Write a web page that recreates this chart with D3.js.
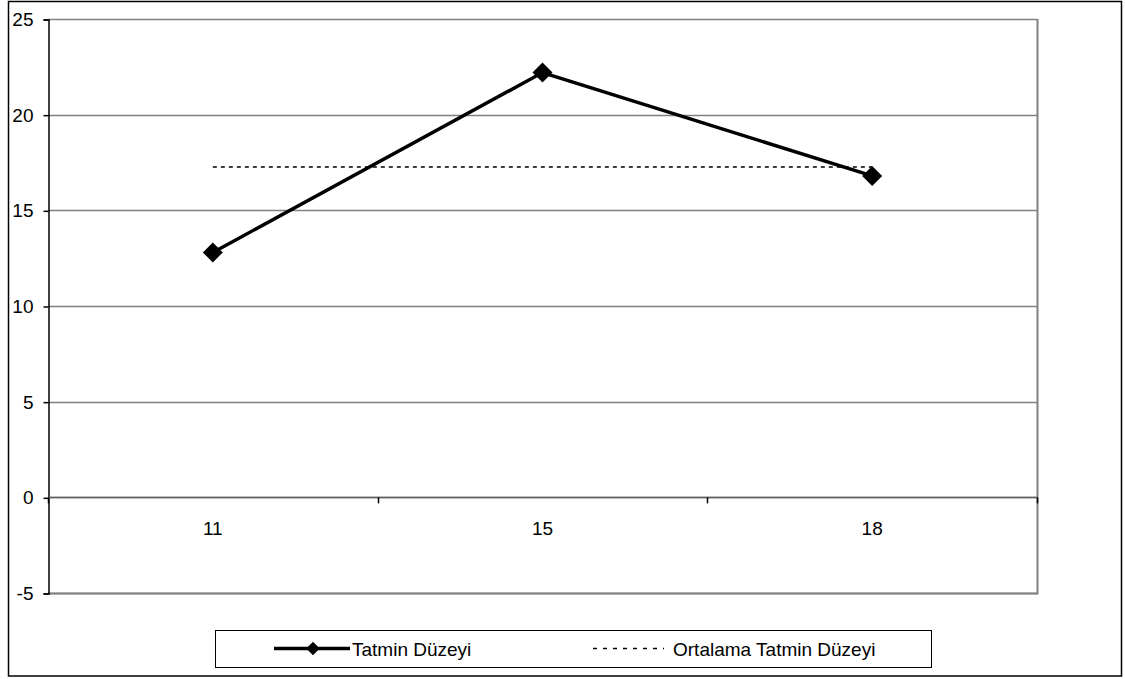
<!DOCTYPE html>
<html>
<head>
<meta charset="utf-8">
<script src="https://cdn.jsdelivr.net/npm/d3@7"></script>
<style>
  html, body { margin: 0; padding: 0; background: #fff; }
  svg { display: block; font-family: "Liberation Sans", Arial, sans-serif; }
</style>
</head>
<body>
<svg id="chart" width="1125" height="679"></svg>
<script>
// Satisfaction level by group
const categories = ["11", "15", "18"];
const satisfaction = [12.8, 22.2, 16.8];
const averageSatisfaction = [17.27, 17.27, 17.27];
const yTicks = [-5, 0, 5, 10, 15, 20, 25];
const seriesNames = ["Tatmin Düzeyi", "Ortalama Tatmin Düzeyi"];

const FONT = "19px";
const svg = d3.select("#chart");

// chart frame
svg.append("rect")
  .attr("x", 8.5).attr("y", 1.5)
  .attr("width", 1113).attr("height", 674.5)
  .attr("fill", "#fff").attr("stroke", "#000").attr("stroke-width", 1.5);

const plot = { left: 48, right: 1037, top: 19, bottom: 593 };

const x = d3.scaleBand().domain(categories).range([plot.left, plot.right]).padding(0);
const y = d3.scaleLinear().domain([-5, 25]).range([plot.bottom, plot.top]);

// horizontal gridlines
svg.append("g")
  .selectAll("line")
  .data(yTicks)
  .join("line")
  .attr("x1", plot.left).attr("x2", plot.right)
  .attr("y1", d => Math.round(y(d)) + 0.5).attr("y2", d => Math.round(y(d)) + 0.5)
  .attr("stroke", "#808080").attr("stroke-width", 1.5);

// plot area border (right and bottom)
svg.append("path")
  .attr("d", `M${plot.right + 0.5},${plot.top}V${plot.bottom + 0.5}H${plot.left}`)
  .attr("fill", "none").attr("stroke", "#808080").attr("stroke-width", 2);

// value axis
const yAxis = d3.axisLeft(y).tickValues(yTicks).tickFormat(d => String(d)).tickSize(5).tickPadding(10);
const gy = svg.append("g")
  .attr("transform", `translate(${plot.left + 0.5},0.5)`)
  .call(yAxis);
gy.attr("font-size", null).attr("font-family", null);
gy.select(".domain").attr("stroke", "#000").attr("stroke-width", 1.5);
gy.selectAll(".tick line").attr("stroke", "#000").attr("stroke-width", 1.5);
gy.selectAll(".tick text")
  .attr("fill", "#000")
  .style("font-size", FONT);

// category axis crossing at zero
const catEdges = categories.map(c => x(c)).concat([x(categories[categories.length - 1]) + x.bandwidth()]);
const gx = svg.append("g");
gx.append("line")
  .attr("x1", plot.left).attr("x2", plot.right)
  .attr("y1", Math.round(y(0)) + 0.5).attr("y2", Math.round(y(0)) + 0.5)
  .attr("stroke", "#606060").attr("stroke-width", 1.5);
gx.selectAll("line.tick")
  .data(catEdges)
  .join("line")
  .attr("class", "tick")
  .attr("x1", d => Math.round(d) + 0.5).attr("x2", d => Math.round(d) + 0.5)
  .attr("y1", y(0)).attr("y2", y(0) + 6)
  .attr("stroke", "#000").attr("stroke-width", 1.5);
gx.selectAll("text")
  .data(categories)
  .join("text")
  .attr("x", d => x(d) + x.bandwidth() / 2)
  .attr("y", y(0) + 38)
  .attr("text-anchor", "middle")
  .attr("fill", "#000")
  .style("font-size", FONT)
  .text(d => d);

const cx = d => x(d) + x.bandwidth() / 2;

// average line (dotted)
const avgLine = d3.line().x((d, i) => cx(categories[i])).y(d => y(d));
svg.append("path")
  .datum(averageSatisfaction)
  .attr("d", avgLine)
  .attr("fill", "none")
  .attr("stroke", "#000")
  .attr("stroke-width", 1.5)
  .attr("stroke-dasharray", "4,4");

// satisfaction line
const satLine = d3.line().x((d, i) => cx(categories[i])).y(d => y(d));
svg.append("path")
  .datum(satisfaction)
  .attr("d", satLine)
  .attr("fill", "none")
  .attr("stroke", "#000")
  .attr("stroke-width", 3.5);

// diamond markers
const diamond = d3.symbol().type(d3.symbolSquare).size(200);
svg.append("g")
  .selectAll("path")
  .data(satisfaction)
  .join("path")
  .attr("d", diamond)
  .attr("transform", (d, i) => `translate(${cx(categories[i])},${y(d)}) rotate(45)`)
  .attr("fill", "#000");

// legend
const legend = svg.append("g");
legend.append("rect")
  .attr("x", 215.5).attr("y", 630.5)
  .attr("width", 716).attr("height", 37)
  .attr("fill", "#fff").attr("stroke", "#000").attr("stroke-width", 1);

const ly = 648.5;
legend.append("line")
  .attr("x1", 274).attr("x2", 350).attr("y1", ly).attr("y2", ly)
  .attr("stroke", "#000").attr("stroke-width", 3.5);
legend.append("path")
  .attr("d", d3.symbol().type(d3.symbolSquare).size(90))
  .attr("transform", `translate(313,${ly}) rotate(45)`)
  .attr("fill", "#000");
legend.append("text")
  .attr("x", 352).attr("y", ly + 7)
  .attr("fill", "#000").style("font-size", FONT)
  .text(seriesNames[0]);

legend.append("line")
  .attr("x1", 593).attr("x2", 664).attr("y1", ly).attr("y2", ly)
  .attr("stroke", "#000").attr("stroke-width", 1.5)
  .attr("stroke-dasharray", "4,6");
legend.append("text")
  .attr("x", 673).attr("y", ly + 7)
  .attr("fill", "#000").style("font-size", FONT)
  .text(seriesNames[1]);
</script>
</body>
</html>
